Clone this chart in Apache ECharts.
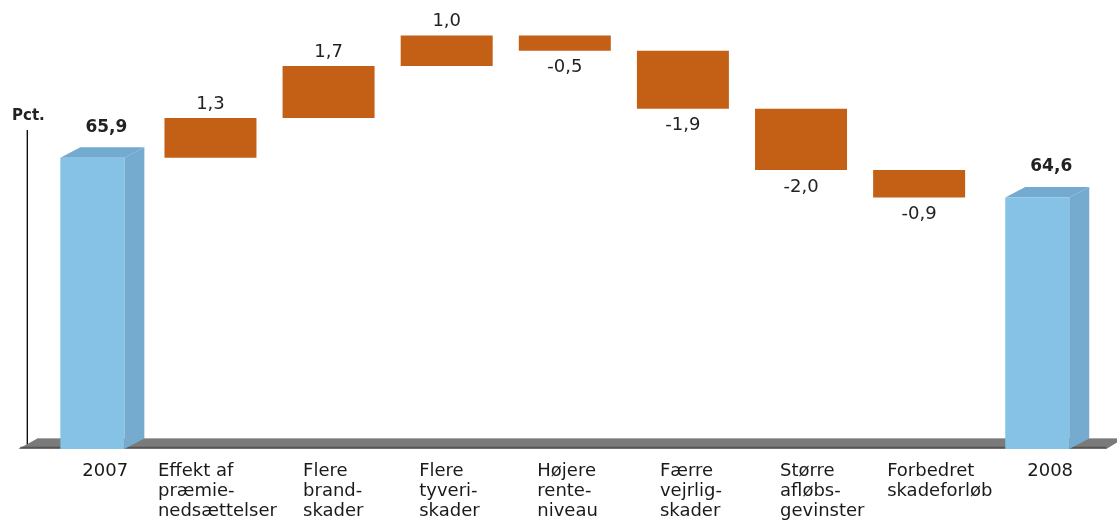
<!DOCTYPE html>
<html><head><meta charset="utf-8">
<script src="https://cdn.jsdelivr.net/npm/echarts@6/dist/echarts.min.js"></script>
<style>html,body{margin:0;padding:0;background:#fff}#c{width:1117px;height:520px}</style>
</head><body><div id="c"></div>
<script>
const categories = ['2007','Effekt af\npræmie-\nnedsættelser','Flere\nbrand-\nskader','Flere\ntyveri-\nskader','Højere\nrente-\nniveau','Færre\nvejrlig-\nskader','Større\nafløbs-\ngevinster','Forbedret\nskadeforløb','2008'];
const values = [65.9, 1.3, 1.7, 1.0, -0.5, -1.9, -2.0, -0.9, 64.6];
const isTotal = [1, 0, 0, 0, 0, 0, 0, 0, 1];
const yMin = 56.37, yMax = 71.06;
const labelIndent = [20, 105, 51, 55, 55, 46, 42, 64, 20];

const rows = [];
let run = 0;
values.forEach((v, i) => {
  if (isTotal[i]) { rows.push([i, yMin, v, v, 1]); run = v; }
  else { const s = run, e = run + v; rows.push([i, Math.min(s, e), Math.max(s, e), v, 0]); run = e; }
});
const fmt = v => v.toFixed(1).replace('.', ',');
const FONT = '"DejaVu Sans", Verdana, sans-serif';

function renderFloor(params, api) {
  const cs = params.coordSys;
  const yB = cs.y + cs.height, yT = yB - 11;
  const xl = cs.x - 15, xr = cs.x + cs.width + 10;
  return { type: 'group', children: [
    { type: 'line', shape: { x1: cs.x - 6, y1: 130, x2: cs.x - 6, y2: yB - 2 }, style: { stroke: '#000', lineWidth: 1.3 } },
    { type: 'polygon', shape: { points: [[xl, yB], [xl + 20, yT], [xr + 18, yT], [xr, yB]] }, style: { fill: '#7a7a7a' } },
    { type: 'line', shape: { x1: xl + 20, y1: yT + 0.5, x2: xr + 18, y2: yT + 0.5 }, style: { stroke: '#a9a9a9', lineWidth: 1 } },
    { type: 'line', shape: { x1: xl + 2, y1: yB - 1.5, x2: xr, y2: yB - 1.5 }, style: { stroke: '#555', lineWidth: 1.5 } }
  ]};
}

function renderBar(params, api) {
  const i = api.value(0), lo = api.value(1), hi = api.value(2), v = api.value(3), tot = api.value(4);
  const top = api.coord([i, hi]), bot = api.coord([i, lo]);
  const cx = top[0];
  const children = [];
  if (tot) {
    const fw = 64, dx = 20, dy = 10.5;
    const x0 = cx - fw / 2, yT = top[1], yB = bot[1];
    children.push({ type: 'polygon', shape: { points: [[x0 + fw, yT], [x0 + fw + dx, yT - dy], [x0 + fw + dx, yB - dy], [x0 + fw, yB]] }, style: { fill: '#74ABCF' } });
    children.push({ type: 'polygon', shape: { points: [[x0, yT], [x0 + dx, yT - dy], [x0 + fw + dx, yT - dy], [x0 + fw, yT]] }, style: { fill: '#72AAD0' } });
    children.push({ type: 'rect', shape: { x: x0, y: yT, width: fw, height: yB - yT }, style: { fill: '#86C1E6' } });
    children.push({ type: 'text', x: x0 + (fw + dx) / 2 + 4, y: yT - dy - 20, style: { text: fmt(v), fill: '#222', font: 'bold 17px ' + FONT, align: 'center', verticalAlign: 'middle' } });
  } else {
    const w = 92;
    children.push({ type: 'rect', shape: { x: cx - w / 2, y: top[1], width: w, height: bot[1] - top[1] }, style: { fill: '#C46016' } });
    const ly = v >= 0 ? top[1] - 14 : bot[1] + 17;
    children.push({ type: 'text', x: cx, y: ly, style: { text: fmt(v), fill: '#222', font: '18px ' + FONT, align: 'center', verticalAlign: 'middle' } });
  }
  return { type: 'group', children };
}

const rich = {};
labelIndent.forEach((w, i) => { rich['i' + i] = { width: w, align: 'left', fontSize: 18, lineHeight: 20, fontFamily: FONT, color: '#1a1a1a' }; });

const chart = echarts.init(document.getElementById('c'), null, { renderer: 'canvas' });
chart.setOption({
  animation: false,
  backgroundColor: '#fff',
  grid: { left: 33.3, right: 20.7, top: 0, bottom: 70, containLabel: false },
  xAxis: {
    type: 'category', data: categories,
    axisLine: { show: false }, axisTick: { show: false }, splitLine: { show: false },
    axisLabel: {
      interval: 0, margin: 12, align: 'center', verticalAlign: 'top',
      formatter: (val, idx) => val.split('\n').map(l => '{i' + idx + '|' + l + '}').join('\n'),
      rich
    }
  },
  yAxis: { type: 'value', min: yMin, max: yMax, show: false },
  graphic: [
    { type: 'text', left: 12, top: 109, style: { text: 'Pct.', font: 'bold 15px ' + FONT, fill: '#222' } }
  ],
  series: [
    { type: 'custom', renderItem: renderFloor, data: [[0]], silent: true, z: 1 },
    { type: 'custom', renderItem: renderBar, data: rows, encode: { x: 0, y: [1, 2] }, silent: true, z: 2 }
  ]
});
</script></body></html>
